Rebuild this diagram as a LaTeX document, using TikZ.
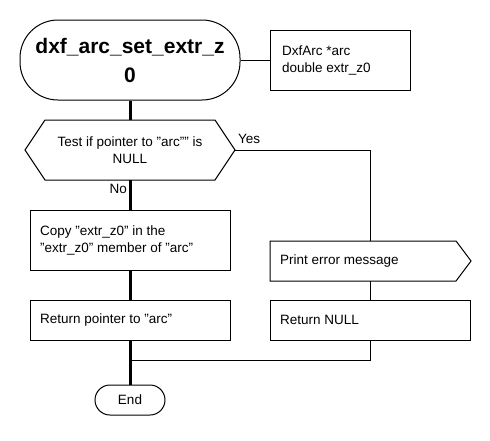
\documentclass[tikz,border=0pt]{standalone}
\usepackage{fontspec}
\setmainfont{Liberation Sans}
\begin{document}
\begin{tikzpicture}[x=1pt,y=-1pt,
  font=\fontsize{13.5}{17}\selectfont,
  thin line/.style={line width=1pt},
  thick line/.style={line width=3pt},
  box/.style={draw, line width=1pt, minimum width=200pt, minimum height=40pt, inner sep=0pt},
  txt/.style={align=left, anchor=west, inner sep=0pt}
]
\useasboundingbox (0,0) rectangle (490,440);

% start terminal
\node[draw, line width=1pt, rounded corners=38pt, minimum width=220pt, minimum height=80pt,
      align=center, font=\fontsize{21}{29}\selectfont\bfseries] (start) at (130,60)
  {dxf\_arc\_set\_extr\_z\\0};

% params
\node[draw, line width=1pt, minimum width=140pt, minimum height=60pt] (params) at (340,60) {};
\node[txt] (paramstxt) at (282,60) {DxfArc *arc\\double extr\_z0};

% decision
\node[minimum width=210pt, minimum height=60pt, inner sep=0pt] (dec) at (130,150) {};
\draw[thin line] (25,150) -- (45,120) -- (215,120) -- (235,150) -- (215,180) -- (45,180) -- cycle;
\node[align=center] (dectxt) at (130,150) {Test if pointer to "arc"" is\\NULL};

% copy
\node[box, minimum height=60pt] (copy) at (130,240) {};
\node[txt] (copytxt) at (40,240) {Copy "extr\_z0" in the\\"extr\_z0" member of "arc"};

% return pointer
\node[box] (retp) at (130,320) {};
\node[txt] (retptxt) at (40,320) {Return pointer to "arc"};

% print error
\node[minimum width=200pt, minimum height=40pt, inner sep=0pt] (print) at (370,261) {};
\draw[thin line] (270,241) -- (456,241) -- (471,261) -- (456,281) -- (270,281) -- cycle;
\node[txt] (printtxt) at (280,261) {Print error message};

% return null
\node[box] (retn) at (370,320) {};
\node[txt] (retntxt) at (280,320) {Return NULL};

% end
\node[draw, line width=1pt, rounded corners=15pt, minimum width=70pt, minimum height=30pt] (end) at (130,400) {End};

\coordinate (join) at (130,360);
\coordinate (yescorner) at (370,150);

% connectors
\draw[thin line] (start.east) -- (params.west);
\draw[thick line] (start.south) -- (dec.north);
\draw[thick line] (dec.south) -- (copy.north);
\draw[thick line] (copy.south) -- (retp.north);
\draw[thick line] (retp.south) -- (end.north);
\draw[thin line] (dec.east) -- (yescorner) -- (print.north);
\draw[thin line] (print.south) -- (retn.north);
\draw[thin line] (retn.south) |- (join);

% labels
\node[anchor=west, inner sep=0pt] (yes) at (238,139) {Yes};
\node[anchor=east, inner sep=0pt] (no) at (127,189) {No};
\end{tikzpicture}
\end{document}
